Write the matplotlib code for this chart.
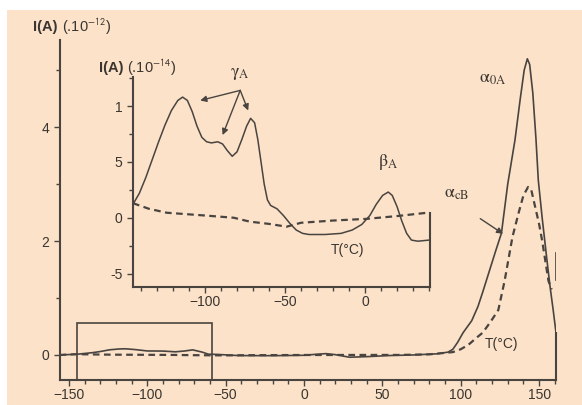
import matplotlib
matplotlib.use("Agg")
import matplotlib.pyplot as plt
from matplotlib.patches import Rectangle
from matplotlib.ticker import MultipleLocator, FixedLocator, FixedFormatter

plt.rcParams['font.family'] = ['Liberation Sans', 'DejaVu Sans']
plt.rcParams['mathtext.fontset'] = 'stix'

# ---- data (main panel, I in 1e-12 A) ----
main_solid_T = [-156, -145, -135, -130, -124, -118, -114, -108, -100, -90, -82, -76, -71, -65, -61,
                -55, -42, -20, 0, 8, 14, 20, 29, 40, 55, 70, 85, 92, 95, 98, 101.5, 107, 111, 114,
                118, 122, 126, 130, 134.6, 138, 140.5, 142.5, 144, 146, 148, 149.5, 152, 155, 157,
                159, 160.8]
main_solid_I = [0.0, 0.012, 0.04, 0.06, 0.09, 0.105, 0.108, 0.095, 0.07, 0.068, 0.055, 0.07, 0.089,
                0.05, 0.013, 0.009, -0.011, -0.013, -0.006, 0.012, 0.023, 0.005, -0.04, -0.03, -0.01,
                0.0, 0.02, 0.05, 0.1, 0.22, 0.39, 0.6, 0.85, 1.1, 1.45, 1.8, 2.14, 3.0, 3.77, 4.5, 5.0,
                5.2, 5.1, 4.6, 3.8, 3.07, 2.4, 1.67, 1.2, 0.79, 0.39]
main_dash_T = [-156, -145, -124, -82, -72, -49, -40, 0, 40, 60, 80, 95, 100, 105, 110, 114, 119,
               124, 128, 133, 137, 140, 143, 145, 147.5, 150, 152, 154, 156, 158]
main_dash_I = [0.0, 0.013, 0.005, 0.0, -0.004, -0.008, -0.005, -0.001, 0.0, 0.0, 0.01, 0.05, 0.1,
               0.18, 0.3, 0.39, 0.58, 0.79, 1.3, 2.07, 2.5, 2.8, 2.95, 2.9, 2.6, 2.3, 2.0, 1.65,
               1.3, 1.15]
edge_seg_T = [160.8, 160.8]
edge_seg_I = [1.32, 1.79]

# ---- data (inset, I in 1e-14 A) ----
ins_solid_T = [-145, -141, -137, -133, -129, -125, -121, -117, -114, -111, -108, -105, -102, -99,
               -96, -92, -89, -86, -83, -80, -77, -74, -71.5, -69, -67, -65, -63, -61, -59, -55,
               -51, -47, -43, -39, -35, -25, -15, -8, -2, 3, 7, 11, 14.5, 17, 20, 23, 26, 29, 33, 40]
ins_solid_I = [1.2, 2.2, 3.6, 5.2, 6.8, 8.3, 9.6, 10.5, 10.8, 10.5, 9.5, 8.2, 7.2, 6.8, 6.7, 6.8,
               6.6, 6.0, 5.5, 5.9, 7.0, 8.2, 8.9, 8.5, 7.0, 5.0, 3.0, 1.6, 1.1, 0.8, 0.2, -0.5,
               -1.1, -1.4, -1.5, -1.5, -1.4, -1.1, -0.6, 0.2, 1.2, 2.0, 2.3, 2.0, 1.0, -0.3, -1.4,
               -2.0, -2.1, -2.0]
ins_dash_T = [-145, -135, -124, -100, -82, -72, -60, -49, -40, -20, 1, 20, 39]
ins_dash_I = [1.3, 0.8, 0.45, 0.2, 0.0, -0.35, -0.55, -0.8, -0.45, -0.25, -0.1, 0.15, 0.45]

main_xticks = [-150, -100, -50, 0, 50, 100, 150]
main_yticks = [0, 2, 4]
ins_xticks = [-100, -50, 0]
ins_yticks = [10, 5, 0, -5]
ins_ylabels = ['1', '5', '0', '-5']

LC = '#4a4440'
TC = '#3a3530'
BG = '#fbe2c9'

fig = plt.figure(figsize=(5.82, 4.05), dpi=100, facecolor='white')
fig.patches.append(Rectangle((7/582, 0), 1 - 7/582, 1 - 10/405, transform=fig.transFigure,
                             facecolor=BG, edgecolor='none', zorder=-10))

ax = fig.add_axes([60/582, 1 - 380/405, (556 - 60)/582, (380 - 40)/405])
ax.set_facecolor('none')
ax.set_xlim(-155.7, 160.8)
ax.set_ylim(-0.44, 5.53)
ax.plot(main_solid_T, main_solid_I, color=LC, lw=1.2)
ax.plot(main_dash_T, main_dash_I, color=LC, lw=1.6, ls=(0, (3, 2)))
ax.plot(edge_seg_T, edge_seg_I, color=LC, lw=1.2)
ax.spines['top'].set_visible(False)
ax.spines['right'].set_bounds(-0.44, 0.39)
for s in ['left', 'bottom', 'right']:
    ax.spines[s].set_color(LC)
    ax.spines[s].set_linewidth(1.5)
ax.xaxis.set_major_locator(FixedLocator(main_xticks))
ax.xaxis.set_minor_locator(MultipleLocator(10))
ax.yaxis.set_major_locator(FixedLocator(main_yticks))
ax.yaxis.set_minor_locator(MultipleLocator(1))
ax.tick_params(which='both', direction='out', colors=LC, labelcolor=TC, labelsize=10, width=1)
ax.tick_params(which='major', length=4)
ax.tick_params(which='minor', length=3)
ax.tick_params(axis='x', pad=2)
ax.tick_params(axis='y', pad=4)

# zoom box
ax.add_patch(Rectangle((-145, -0.44), -58.7 + 145, 0.56 + 0.44, fill=False, edgecolor=LC, lw=1.2))

fig.text(33/582, 1 - 27/405, 'I(A)', fontsize=10.5, color=TC, fontweight='bold',
         va='center', ha='left')
fig.text(62/582, 1 - 27/405, '(.10$^{\\mathsf{-12}}$)', fontsize=10.5, color=TC,
         va='center', ha='left')
ax.text(120.6, 4.86, '$\\mathrm{\\alpha}_{\\mathrm{0A}}$', fontsize=13, color=TC,
        ha='center', va='center')
ax.text(97.6, 2.84, '$\\mathrm{\\alpha}_{\\mathrm{cB}}$', fontsize=13, color=TC,
        ha='center', va='center')
ax.annotate('', xy=(128.5, 2.1), xytext=(111, 2.42),
            arrowprops=dict(arrowstyle='-|>', color=LC, lw=1.0, mutation_scale=9))
ax.text(115.5, 0.2, 'T(°C)', fontsize=10, color=TC, ha='left', va='center')

# inset
ai = fig.add_axes([133/582, 1 - 287/405, (430 - 133)/582, (287 - 77)/405])
ai.set_facecolor('none')
ai.set_xlim(-145, 40.6)
ai.set_ylim(-6.2, 12.6)
ai.plot(ins_solid_T, ins_solid_I, color=LC, lw=1.1)
ai.plot(ins_dash_T, ins_dash_I, color=LC, lw=1.6, ls=(0, (3, 2)))
ai.spines['top'].set_visible(False)
ai.spines['right'].set_bounds(-6.2, 0.45)
for s in ['left', 'bottom', 'right']:
    ai.spines[s].set_color(LC)
    ai.spines[s].set_linewidth(1.5)
ai.xaxis.set_major_locator(FixedLocator(ins_xticks))
ai.xaxis.set_minor_locator(MultipleLocator(10))
ai.yaxis.set_major_locator(FixedLocator(ins_yticks))
ai.yaxis.set_major_formatter(FixedFormatter(ins_ylabels))
ai.yaxis.set_minor_locator(MultipleLocator(2.5))
ai.tick_params(which='both', direction='out', colors=LC, labelcolor=TC, labelsize=10, width=1)
ai.tick_params(which='major', length=4)
ai.tick_params(which='minor', length=3)
ai.tick_params(axis='x', pad=2)

fig.text(99/582, 1 - 68/405, 'I(A)', fontsize=10.5, color=TC, fontweight='bold',
         va='center', ha='left')
fig.text(127/582, 1 - 68/405, '(.10$^{\\mathsf{-14}}$)', fontsize=10.5, color=TC,
         va='center', ha='left')
ai.text(-78, 12.9, '$\\mathrm{\\gamma}_{\\mathrm{A}}$', fontsize=13, color=TC,
        ha='center', va='center', clip_on=False)
for tgt in [(-103, 10.5), (-89, 7.4), (-73, 9.6)]:
    ai.annotate('', xy=tgt, xytext=(-78, 11.4),
                arrowprops=dict(arrowstyle='-|>', color=LC, lw=1.0, mutation_scale=9,
                                shrinkA=0, shrinkB=0))
ai.text(14.5, 5.0, '$\\mathrm{\\beta}_{\\mathrm{A}}$', fontsize=13, color=TC,
        ha='center', va='center')
ai.text(-11, -2.9, 'T(°C)', fontsize=10, color=TC, ha='center', va='center')

fig.savefig('out.png', dpi=100, facecolor=fig.get_facecolor())
